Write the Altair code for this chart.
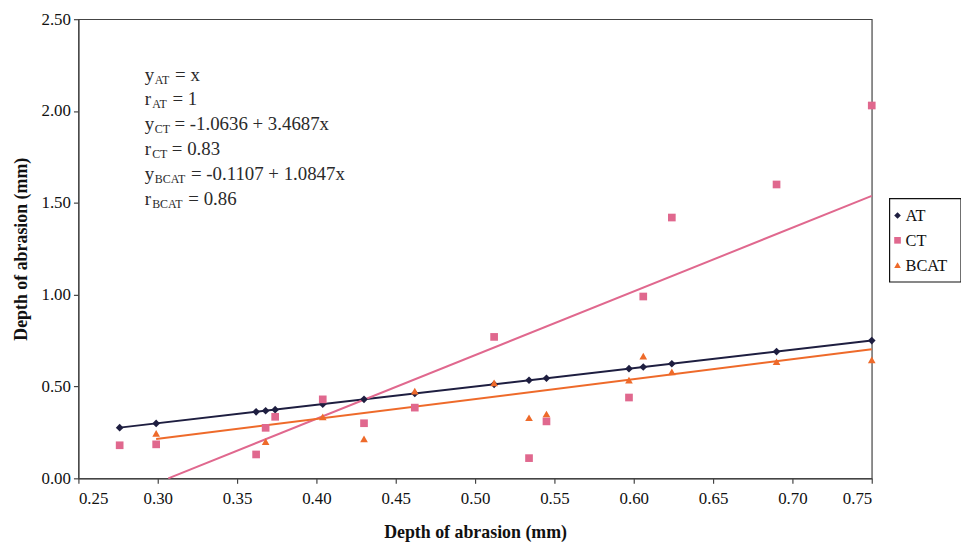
import altair as alt
import pandas as pd

FONT = "Liberation Serif"

# ---- data ----
depth_x = [0.276, 0.299, 0.362, 0.368, 0.374, 0.404, 0.430, 0.462, 0.512, 0.534,
           0.545, 0.597, 0.606, 0.624, 0.690, 0.750]
at_y = [0.276, 0.299, 0.362, 0.368, 0.374, 0.404, 0.430, 0.462, 0.512, 0.534,
        0.545, 0.597, 0.606, 0.624, 0.690, 0.750]
ct_y = [0.18, 0.185, 0.13, 0.275, 0.335, 0.43, 0.30, 0.385, 0.77, 0.11,
        0.31, 0.44, 0.99, 1.42, 1.60, 2.03]
bcat_x = [0.299, 0.368, 0.404, 0.430, 0.462, 0.512, 0.534, 0.545, 0.597, 0.606,
          0.624, 0.690, 0.750]
bcat_y = [0.245, 0.20, 0.335, 0.215, 0.475, 0.52, 0.33, 0.35, 0.535, 0.665,
          0.58, 0.635, 0.645]

series_names = ["AT", "CT", "BCAT"]
series_colors = ["#1e1e40", "#e0688e", "#ee6a2a"]
series_shapes = ["diamond", "square", "triangle-up"]

ct_coef = (-1.0636, 3.4687)
bcat_coef = (-0.1107, 1.0847)

x_ticks = [0.25, 0.30, 0.35, 0.40, 0.45, 0.50, 0.55, 0.60, 0.65, 0.70, 0.75]
y_ticks = [0.0, 0.5, 1.0, 1.5, 2.0, 2.5]

annot_lines = [
    ("y", "AT", "= x"),
    ("r", "AT", "= 1"),
    ("y", "CT", "= -1.0636 + 3.4687x"),
    ("r", "CT", "= 0.83"),
    ("y", "BCAT", "= -0.1107 + 1.0847x"),
    ("r", "BCAT", "= 0.86"),
]

# ---- tables ----
pts = pd.concat([
    pd.DataFrame({"x": depth_x, "y": at_y, "series": "AT"}),
    pd.DataFrame({"x": depth_x, "y": ct_y, "series": "CT"}),
    pd.DataFrame({"x": bcat_x, "y": bcat_y, "series": "BCAT"}),
], ignore_index=True)
pts["order"] = range(len(pts))

x_end = max(depth_x)
ct_x0 = max(min(depth_x), -ct_coef[0] / ct_coef[1])
bcat_x0 = min(bcat_x)
lines = pd.DataFrame({
    "series": ["AT", "AT", "CT", "CT", "BCAT", "BCAT"],
    "x": [min(depth_x), x_end, ct_x0, x_end, bcat_x0, x_end],
    "y": [at_y[0], at_y[-1],
          ct_coef[0] + ct_coef[1] * ct_x0, ct_coef[0] + ct_coef[1] * x_end,
          bcat_coef[0] + bcat_coef[1] * bcat_x0, bcat_coef[0] + bcat_coef[1] * x_end],
})

W, H = 800, 463
x_scale = alt.Scale(domain=[0.25, 0.75], nice=False, zero=False)
y_scale = alt.Scale(domain=[0, 2.5], nice=False, zero=True)
color_scale = alt.Scale(domain=series_names, range=series_colors)
shape_scale = alt.Scale(domain=series_names, range=series_shapes)

x_axis = alt.Axis(values=x_ticks, format=".2f", title="Depth of abrasion (mm)",
                  grid=False, tickSize=5, labelPadding=7, titleY=46, titleX=W / 2)
y_axis = alt.Axis(values=y_ticks, format=".2f", title="Depth of abrasion (mm)",
                  grid=False, tickSize=5, labelPadding=3, titleX=-48, titleY=H / 2)

line_layer = alt.Chart(lines).mark_line(strokeWidth=2).encode(
    x=alt.X("x:Q", scale=x_scale, axis=x_axis),
    y=alt.Y("y:Q", scale=y_scale, axis=y_axis),
    color=alt.Color("series:N", scale=color_scale, legend=None),
    detail="series:N",
)

point_layer = alt.Chart(pts).mark_point(filled=True, opacity=1, size=60).encode(
    x=alt.X("x:Q", scale=x_scale),
    y=alt.Y("y:Q", scale=y_scale),
    color=alt.Color("series:N", scale=color_scale, legend=None),
    shape=alt.Shape("series:N", scale=shape_scale, legend=None),
    order="order:Q",
)

# ---- legend (drawn) ----
LX, LY, LW, LH = 818, 181, 72, 84
leg_df = pd.DataFrame({"series": series_names, "idx": [0, 1, 2]})
legend_box = alt.Chart(pd.DataFrame({"a": [0]})).mark_rect(
    fill="white", stroke="#111", strokeWidth=1.2
).encode(x=alt.value(LX), x2=alt.value(LX + LW), y=alt.value(LY), y2=alt.value(LY + LH))

legend_layers = [legend_box]
for i, name in enumerate(series_names):
    cy = LY + 17 + i * 25
    legend_layers.append(
        alt.Chart(leg_df[leg_df.series == name]).mark_point(filled=True, opacity=1, size=45)
        .encode(x=alt.value(LX + 8), y=alt.value(cy),
                color=alt.Color("series:N", scale=color_scale, legend=None),
                shape=alt.Shape("series:N", scale=shape_scale, legend=None))
    )
    legend_layers.append(
        alt.Chart(leg_df[leg_df.series == name]).mark_text(
            align="left", baseline="middle", font=FONT, fontSize=16.5, color="#111")
        .encode(x=alt.value(LX + 16), y=alt.value(cy + 1), text="series:N")
    )

# ---- annotation text with subscripts ----
widths = {"y": 0.5, "r": 0.36, "A": 0.722, "B": 0.667, "C": 0.667, "T": 0.611}
MAIN, SUB = 19, 12
x0, y0, step = 67, 62, 25
annot_layers = []
one = pd.DataFrame({"a": [0]})
for i, (base, sub, rest) in enumerate(annot_lines):
    yy = y0 + i * step
    bw = widths[base] * MAIN
    sw = sum(widths[c] for c in sub) * SUB
    pieces = [(base, x0, yy, MAIN), (sub, x0 + bw + 0.5, yy + 3, SUB),
              (rest, x0 + bw + sw + 5, yy, MAIN)]
    for txt, px, py, fs in pieces:
        annot_layers.append(
            alt.Chart(one).mark_text(text=txt, align="left", baseline="alphabetic",
                                     font=FONT, fontSize=fs, color="#2a2a2a")
            .encode(x=alt.value(px), y=alt.value(py))
        )

chart = alt.layer(line_layer, point_layer, *annot_layers, *legend_layers).properties(
    width=W, height=H,
    autosize=alt.AutoSizeParams(type="none"),
    padding={"left": 71, "top": 9, "right": 90, "bottom": 70},
    background="white",
).configure_view(
    stroke="#444", strokeWidth=1.2,
).configure_axis(
    labelFont=FONT, labelFontSize=17, labelColor="#111",
    titleFont=FONT, titleFontSize=18, titleFontWeight="bold", titleColor="#111",
    domainColor="#444", tickColor="#444", domainWidth=1.2, tickWidth=1.2,
)

chart.save("out.html", embed_options={"renderer": "svg", "actions": False})
